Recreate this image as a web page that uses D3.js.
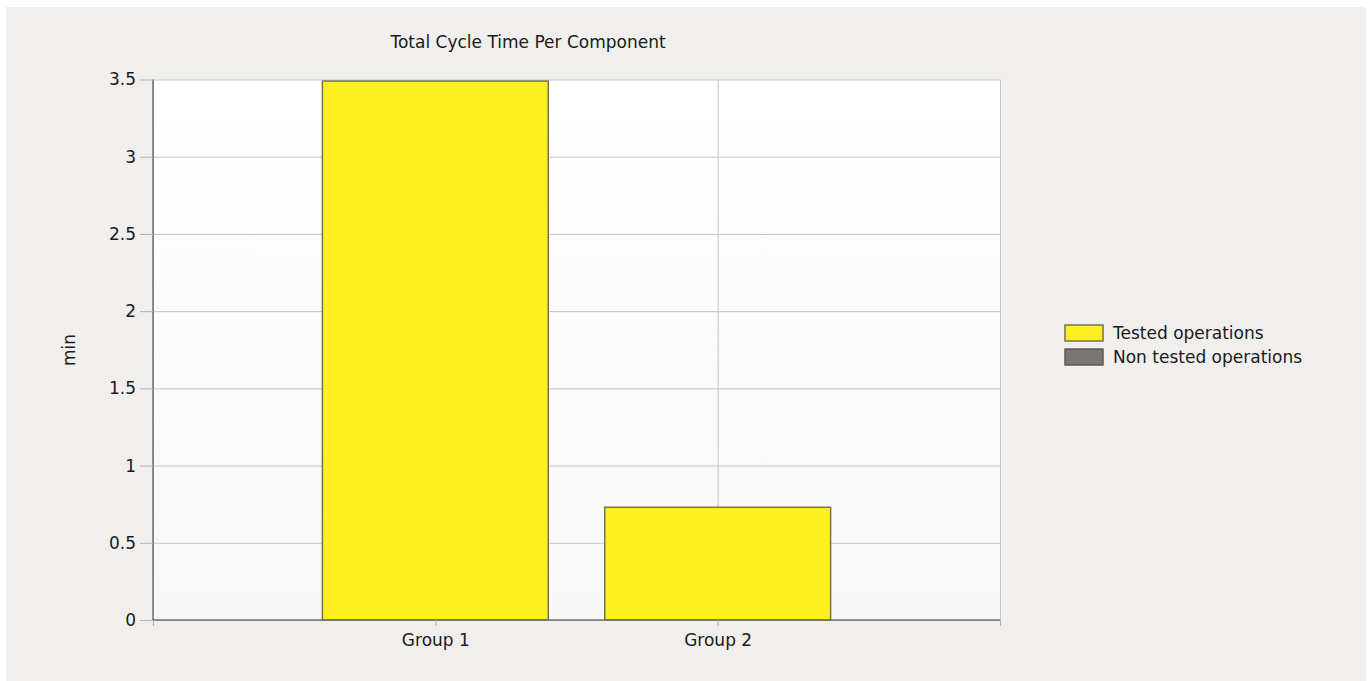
<!DOCTYPE html>
<html lang="en">
<head>
    <meta charset="UTF-8">
    <title>Total Cycle Time Per Component</title>
    <script src="https://d3js.org/d3.v7.min.js"></script>
    <style>
        body { margin: 0; background: #fff; }
        svg text { font-family: "DejaVu Sans", sans-serif; font-size: 17px; fill: #1a1a1a; }
    </style>
</head>
<body>
    <svg width="1369" height="681"></svg>
    <script>
        // chart values
        const groups = ["Group 1", "Group 2"];
        const testedOps = [3.49, 0.73];
        const nonTestedOps = [0, 0];
        const seriesNames = ["Tested operations", "Non tested operations"];
        const yTicks = [0, 0.5, 1, 1.5, 2, 2.5, 3, 3.5];

        const svg = d3.select("svg"),
              margin = {top: 79.5, left: 153, right: 369, bottom: 61};
        const width = 1000 - margin.left,
              height = 620 - margin.top;

        // panel background
        svg.append("rect")
            .attr("x", 6).attr("y", 7)
            .attr("width", 1360).attr("height", 674)
            .attr("fill", "#f0efee");

        const defs = svg.append("defs");
        const grad = defs.append("linearGradient")
            .attr("id", "plotBg").attr("x1", 0).attr("y1", 0).attr("x2", 0).attr("y2", 1);
        grad.append("stop").attr("offset", "0%").attr("stop-color", "#ffffff");
        grad.append("stop").attr("offset", "100%").attr("stop-color", "#f7f7f7");

        const g = svg.append("g")
            .attr("transform", `translate(${margin.left},${margin.top})`);

        g.append("rect")
            .attr("width", width).attr("height", height)
            .attr("fill", "url(#plotBg)");

        const x = d3.scaleLinear()
            .domain([0, groups.length + 1])
            .range([0, width]);

        const y = d3.scaleLinear()
            .domain([0, 3.5])
            .range([height, 0]);

        // horizontal grid
        g.append("g")
            .call(d3.axisLeft(y).tickValues(yTicks).tickSize(-width).tickFormat(""))
            .call(a => a.select(".domain").remove())
            .selectAll("line").attr("stroke", "#c4c4c4");

        // vertical grid
        g.append("g")
            .attr("transform", `translate(0,${height})`)
            .call(d3.axisBottom(x).ticks(groups.length + 1).tickSize(-height).tickFormat(""))
            .call(a => a.select(".domain").remove())
            .selectAll("line").attr("stroke", "#c4c4c4");

        // stacked bars
        const rows = groups.map((gr, i) => ({group: gr, i: i, tested: testedOps[i], nontested: nonTestedOps[i]}));
        const stack = d3.stack().keys(["tested", "nontested"])(rows);
        const fills = ["#fef020", "#787673"];
        const strokes = ["#74744f", "#5a5a58"];
        const slot = x(1) - x(0);
        const barW = slot * 0.8;

        stack.forEach((layer, k) => {
            g.append("g").selectAll("rect")
                .data(layer.filter(d => d[1] - d[0] > 0))
                .join("rect")
                .attr("x", d => x(d.data.i + 1) - barW / 2)
                .attr("y", d => y(d[1]))
                .attr("width", barW)
                .attr("height", d => y(d[0]) - y(d[1]))
                .attr("fill", fills[k])
                .attr("stroke", strokes[k])
                .attr("stroke-width", 1.5);
        });

        // y axis
        const yAxis = g.append("g")
            .call(d3.axisLeft(y).tickValues(yTicks).tickSize(13).tickPadding(4).tickFormat(d3.format("~g")));
        yAxis.select(".domain").attr("stroke", "#6e6e6e").attr("stroke-width", 1.5).attr("d", `M0,0V${height}`);
        yAxis.selectAll(".tick line").attr("stroke", "#b0b0b0");
        yAxis.selectAll("text").style("font-size", "17px").attr("fill", "#1a1a1a");

        // x axis
        const xAxis = g.append("g")
            .attr("transform", `translate(0,${height})`)
            .call(d3.axisBottom(x).ticks(groups.length + 1).tickSize(6).tickPadding(8)
                .tickFormat(d => (d >= 1 && d <= groups.length) ? groups[d - 1] : ""));
        xAxis.select(".domain").attr("stroke", "#6e6e6e").attr("stroke-width", 1.5).attr("d", `M0,0H${width}`);
        xAxis.selectAll(".tick line").attr("stroke", "#b0b0b0");
        xAxis.selectAll("text").style("font-size", "17px").attr("fill", "#1a1a1a");

        // title
        svg.append("text")
            .attr("x", 528).attr("y", 48)
            .attr("text-anchor", "middle")
            .text("Total Cycle Time Per Component");

        // y label
        svg.append("text")
            .attr("transform", "translate(75,350) rotate(-90)")
            .attr("text-anchor", "middle")
            .text("min");

        // legend
        const legend = svg.append("g").attr("transform", "translate(1065,325)");
        seriesNames.forEach((name, i) => {
            const row = legend.append("g").attr("transform", `translate(0,${i * 24})`);
            row.append("rect")
                .attr("width", 38).attr("height", 16)
                .attr("fill", fills[i])
                .attr("stroke", strokes[i])
                .attr("stroke-width", 1.5);
            row.append("text")
                .attr("x", 48).attr("y", 14)
                .text(name);
        });
    </script>
</body>
</html>
